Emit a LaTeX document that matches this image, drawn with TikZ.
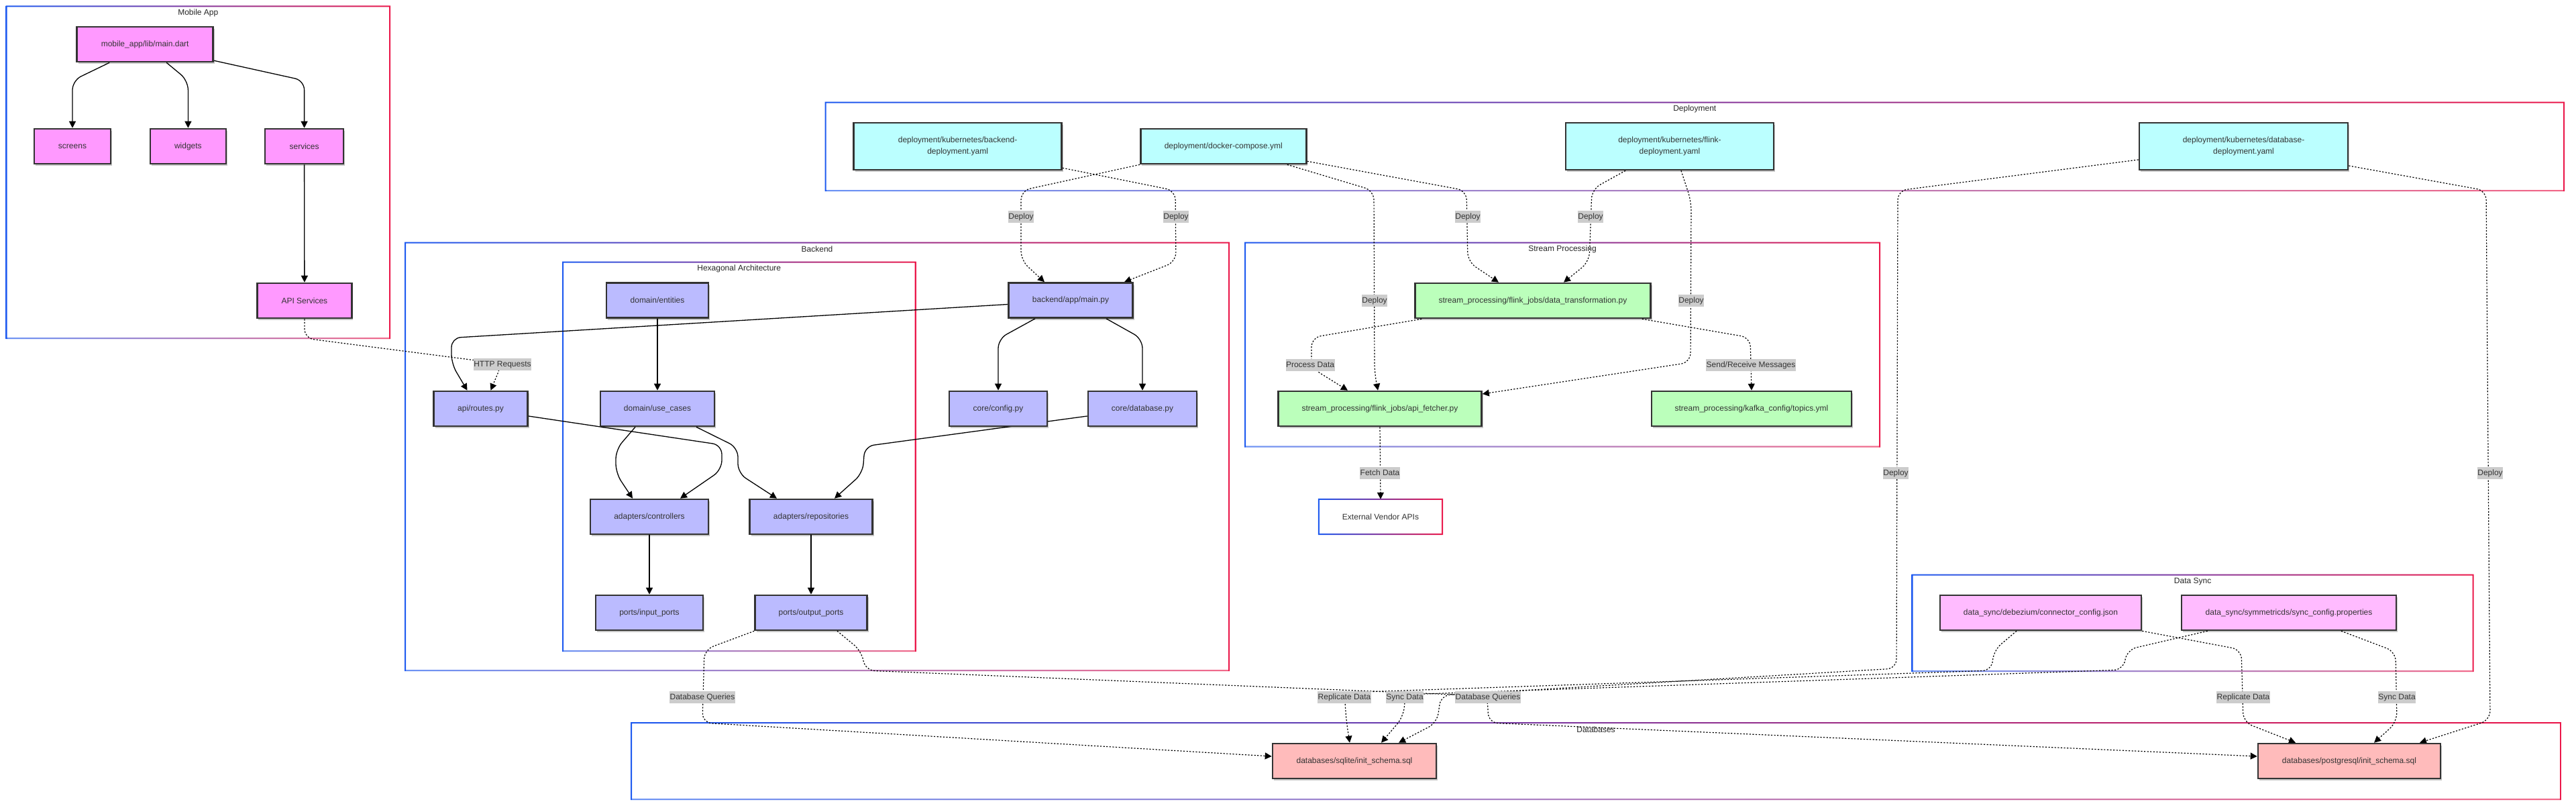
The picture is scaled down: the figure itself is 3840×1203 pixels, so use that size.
\documentclass[tikz,border=0pt]{standalone}
\usepackage{fontspec}
\setmainfont{Liberation Sans}
\usetikzlibrary{arrows.meta,calc,shadows}

\definecolor{cblue}{RGB}{30,90,240}
\definecolor{cred}{RGB}{235,25,75}
\definecolor{cmob}{HTML}{FF99FF}
\definecolor{cback}{HTML}{BBBBFF}
\definecolor{cdep}{HTML}{BBFFFF}
\definecolor{cstr}{HTML}{BBFFBB}
\definecolor{csync}{HTML}{FFBBFF}
\definecolor{cdb}{HTML}{FFBBBB}
\definecolor{nborder}{HTML}{333333}
\definecolor{ntext}{HTML}{333333}
\definecolor{clabel}{HTML}{CCCCCC}

\pgfdeclarelayer{bg}
\pgfdeclarelayer{clusters}
\pgfdeclarelayer{edges}
\pgfsetlayers{bg,clusters,edges,main}

\tikzset{
  box/.style={draw=nborder, line width=2.6pt, minimum height=52pt, inner sep=0pt,
    font=\fontsize{12}{17}\selectfont, text=ntext, align=center,
    drop shadow={shadow xshift=2pt, shadow yshift=-3pt, opacity=0.22, fill=black}},
  plainbox/.style={fill=white, minimum height=52pt, inner sep=0pt,
    font=\fontsize{12}{17}\selectfont, text=ntext, align=center},
  ctitle/.style={font=\fontsize{12}{14}\selectfont, text=black!85, inner sep=0pt},
  elabel/.style={fill=clabel, text=ntext, font=\fontsize{12}{14}\selectfont,
    inner xsep=0.5pt, inner ysep=0pt, minimum height=17.5pt, text height=9pt, text depth=2.5pt},
  sedge/.style={line width=1.3pt, black, -{Triangle[length=10pt,width=10pt]}, rounded corners=14pt},
  dedge/.style={line width=1.2pt, black, dash pattern=on 2.2pt off 2.4pt,
    -{Triangle[length=10pt,width=10pt]}, rounded corners=14pt},
}

\newcommand{\clusterbox}[5]{%
  \path[left color=cblue, right color=cred, even odd rule]
    (#1-1,#2-1) rectangle (#3+1,#4+1) (#1+1,#2+1) rectangle (#3-1,#4-1);
  \fill[white,opacity=0.35] (#1+1,#4-1) rectangle (#3-1,#4+1);
  \node[ctitle] at ({(#1+#3)/2},#2+10) {#5};
}

\begin{document}
\begin{tikzpicture}[x=1pt,y=-1pt]
\useasboundingbox (0,0) rectangle (3840,1203);
\begin{pgfonlayer}{bg}
\fill[white] (0,0) rectangle (3840,1203);
\end{pgfonlayer}

% ---------- clusters ----------
\begin{pgfonlayer}{clusters}
\clusterbox{9.6}{9.3}{581}{504}{Mobile App}
\clusterbox{604}{361.6}{1832}{999}{Backend}
\clusterbox{839}{390.6}{1364.5}{970}{Hexagonal Architecture}
\clusterbox{1230.5}{152.7}{3822}{284}{Deployment}
\clusterbox{1856}{361.7}{2802}{665.7}{Stream Processing}
\clusterbox{2850.6}{856.7}{3686.6}{1000}{Data Sync}
\clusterbox{941}{1077}{3817}{1191}{Databases}
\end{pgfonlayer}

% ---------- nodes ----------
% Mobile App
\node[box, fill=cmob, minimum width=203pt] (mdart) at (216.2,66) {mobile\_app/lib/main.dart};
\node[box, fill=cmob, minimum width=114pt] (screens) at (108,218) {screens};
\node[box, fill=cmob, minimum width=113pt] (widgets) at (280.4,218) {widgets};
\node[box, fill=cmob, minimum width=117pt] (services) at (453.6,218) {services};
\node[box, fill=cmob, minimum width=141pt] (apisvc) at (453.9,448) {API Services};

% Backend
\node[box, fill=cback, minimum width=152pt] (entities) at (980,447.5) {domain/entities};
\node[box, fill=cback, minimum width=185pt] (mainpy) at (1596,447.5) {backend/app/main.py};
\node[box, fill=cback, minimum width=140pt] (routes) at (716.5,609) {api/routes.py};
\node[box, fill=cback, minimum width=170pt] (usecases) at (980,609) {domain/use\_cases};
\node[box, fill=cback, minimum width=146pt] (config) at (1488,609) {core/config.py};
\node[box, fill=cback, minimum width=162pt] (database) at (1703,609) {core/database.py};
\node[box, fill=cback, minimum width=176pt] (controllers) at (968,770) {adapters/controllers};
\node[box, fill=cback, minimum width=183pt] (repos) at (1209,770) {adapters/repositories};
\node[box, fill=cback, minimum width=160pt] (inports) at (968,913) {ports/input\_ports};
\node[box, fill=cback, minimum width=167pt] (outports) at (1209,913) {ports/output\_ports};

% Deployment
\node[box, fill=cdep, minimum width=310pt, minimum height=70pt] (kback) at (1427.6,218) {deployment/kubernetes/backend-\\deployment.yaml};
\node[box, fill=cdep, minimum width=247pt] (compose) at (1823.8,218) {deployment/docker-compose.yml};
\node[box, fill=cdep, minimum width=310pt, minimum height=70pt] (kflink) at (2489,218) {deployment/kubernetes/flink-\\deployment.yaml};
\node[box, fill=cdep, minimum width=311pt, minimum height=70pt] (kdb) at (3344.5,218) {deployment/kubernetes/database-\\deployment.yaml};

% Stream Processing
\node[box, fill=cstr, minimum width=351pt] (transform) at (2285,448) {stream\_processing/flink\_jobs/data\_transformation.py};
\node[box, fill=cstr, minimum width=303pt] (fetcher) at (2057,609) {stream\_processing/flink\_jobs/api\_fetcher.py};
\node[box, fill=cstr, minimum width=298pt] (topics) at (2611,609) {stream\_processing/kafka\_config/topics.yml};
\node[plainbox, minimum width=184pt] (vendor) at (2058,770) {External Vendor APIs};
\path[left color=cblue, right color=cred, even odd rule]
  ($(vendor.north west)+(-1,-1)$) rectangle ($(vendor.south east)+(1,1)$)
  ($(vendor.north west)+(1,1)$) rectangle ($(vendor.south east)+(-1,-1)$);

% Data Sync
\node[box, fill=csync, minimum width=300pt] (connector) at (3042,913) {data\_sync/debezium/connector\_config.json};
\node[box, fill=csync, minimum width=320pt] (syncprop) at (3412,913) {data\_sync/symmetricds/sync\_config.properties};

% Databases
\node[box, fill=cdb, minimum width=244pt] (sqlite) at (2019,1134) {databases/sqlite/init\_schema.sql};
\node[box, fill=cdb, minimum width=272pt] (postgres) at (3502,1134) {databases/postgresql/init\_schema.sql};

% ---------- edges ----------
\begin{pgfonlayer}{edges}
% Mobile App
\draw[sedge] ($(mdart.south)+(-53,0)$) -- (108,120) -- (screens.north);
\draw[sedge] ($(mdart.south)+(32,0)$) -- (280.4,120) -- (widgets.north);
\draw[sedge] ($(mdart.south east)+(0,-3)$) -- (453.6,120) -- (services.north);
\draw[sedge] (services.south) -- (apisvc.north);
\draw[dedge] (apisvc.south) -- (453.9,504) -- (748,542) -- ($(routes.north)+(15,0)$);

% Backend
\draw[sedge] ($(mainpy.west)+(0,6)$) -- (673,503.5) -- (673,542) -- ($(routes.north)+(-20,0)$);
\draw[sedge] ($(mainpy.south)+(-53,0)$) -- (1488,505) -- (config.north);
\draw[sedge] ($(mainpy.south)+(53,0)$) -- (1703,505) -- (database.north);
\draw[sedge] (entities.south) -- (usecases.north);
\draw[sedge] ($(routes.east)+(0,11)$) -- (1076,663) -- (1076,700) -- ($(controllers.north)+(46,0)$);
\draw[sedge] ($(usecases.south)+(-33,0)$) -- (918,670) -- (918,705) -- ($(controllers.north)+(-25,0)$);
\draw[sedge] ($(usecases.south)+(58,0)$) -- (1100,667) -- (1100,705) -- ($(repos.north)+(-51,0)$);
\draw[sedge] ($(database.west)+(0,11)$) -- (1289,665) -- (1286,705) -- ($(repos.north)+(35,0)$);
\draw[sedge] (controllers.south) -- (inports.north);
\draw[sedge] (repos.south) -- (outports.north);

% Deployment
\draw[dedge] (compose.south west) -- (1522,284) -- (1522,388) -- ($(mainpy.north)+(-39,0)$);
\draw[dedge] ($(kback.south east)+(0,-4)$) -- (1752,284) -- (1753,390) -- ($(mainpy.north)+(80,0)$);
\draw[dedge] ($(compose.south)+(95,0)$) -- (2048,284) -- (2049,555) -- ($(fetcher.north)+(-3,0)$);
\draw[dedge] ($(compose.south east)+(0,-5)$) -- (2186,284) -- (2188,390) -- ($(transform.north)+(-51,0)$);
\draw[dedge] ($(kflink.south)+(-66,0)$) -- (2373,282) -- (2369,390) -- ($(transform.north)+(46,0)$);
\draw[dedge] ($(kflink.south)+(17,0)$) -- (2521,300) -- (2520,540) -- ($(fetcher.east)+(0,-22)$);
\draw[dedge] ($(kdb.west)+(0,20)$) -- (2829,284) -- (2827,996) -- (2148,1036) -- (2142,1077) -- ($(sqlite.north)+(66,0)$);
\draw[dedge] ($(kdb.east)+(0,29)$) -- (3706,284) -- (3712,1073) -- ($(postgres.north)+(105,0)$);

% Stream Processing
\draw[dedge] ($(transform.south west)+(11,0)$) -- (1955,503) -- (1955,548) -- ($(fetcher.north)+(-48,0)$);
\draw[dedge] ($(transform.south east)+(-14,0)$) -- (2609,503) -- (topics.north);
\draw[dedge] (fetcher.south) -- (vendor.north);

% Data Sync
\draw[dedge] ($(connector.south)+(-36,0)$) -- (2972,969) -- (2969,999) -- (2004,1032) -- (2007,1075) -- ($(sqlite.north)+(-7,0)$);
\draw[dedge] (connector.south east) -- (3341,968) -- (3344,1076) -- ($(postgres.north)+(-80,0)$);
\draw[dedge] ($(syncprop.south west)+(40,0)$) -- (3171,968) -- (3165,998) -- (2095,1035) -- (2092,1068) -- ($(sqlite.north)+(40,0)$);
\draw[dedge] ($(syncprop.south)+(78,0)$) -- (3571,971) -- (3573,1076) -- ($(postgres.north)+(37,0)$);

% Database queries
\draw[dedge] (outports.south west) -- (1050,968) -- (1047,1077) -- ($(sqlite.west)+(0,-7)$);
\draw[dedge] ($(outports.south)+(39,0)$) -- (1284,970) -- (1290,999) -- (2217,1037) -- (2219,1077) -- ($(postgres.west)+(0,-7)$);
\end{pgfonlayer}

% ---------- edge labels ----------
\node[elabel] (lb1) at (1522,323) {Deploy};
\node[elabel] (lb2) at (1753,323) {Deploy};
\node[elabel] (lb3) at (2188,323) {Deploy};
\node[elabel] (lb4) at (2371,323) {Deploy};
\node[elabel] (lb5) at (2049,448) {Deploy};
\node[elabel] (lb6) at (2521,448) {Deploy};
\node[elabel] (lb7) at (2826,705) {Deploy};
\node[elabel] (lb8) at (3712,705) {Deploy};
\node[elabel] (lb9) at (749,543) {HTTP Requests};
\node[elabel] (lb10) at (1953,544) {Process Data};
\node[elabel] (lb11) at (2610,544) {Send/Receive Messages};
\node[elabel] (lb12) at (2057,705) {Fetch Data};
\node[elabel] (lb13) at (1047,1039) {Database Queries};
\node[elabel] (lb14) at (2004,1039) {Replicate Data};
\node[elabel] (lb15) at (2094,1039) {Sync Data};
\node[elabel] (lb16) at (2218,1039) {Database Queries};
\node[elabel] (lb17) at (3344,1039) {Replicate Data};
\node[elabel] (lb18) at (3573,1039) {Sync Data};
\end{tikzpicture}
\end{document}
